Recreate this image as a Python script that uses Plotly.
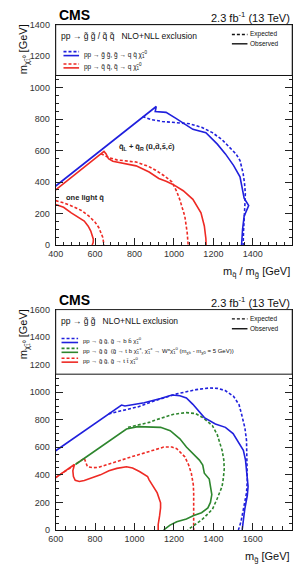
import plotly.graph_objects as go

W, H = 301, 572

# ---------------- data: top panel (gluino / squark -> q) ----------------
top_blue_obs_x = [400, 895, 910, 905, 960, 1010, 1055, 1096, 1162, 1220, 1261, 1302, 1335, 1351, 1356, 1379, 1356, 1348, 1343]
top_blue_obs_y = [375, 870, 880, 848, 843, 805, 766, 735, 714, 641, 579, 506, 433, 339, 298, 250, 183, 100, 0]
top_blue_exp_x = [841, 880, 940, 1000, 1080, 1140, 1195, 1245, 1285, 1315, 1335, 1351, 1358, 1362, 1360, 1356, 1353, 1351]
top_blue_exp_y = [816, 798, 785, 777, 770, 748, 714, 668, 620, 578, 537, 454, 390, 329, 260, 183, 90, 0]

top_red_obs_x = [400, 645, 655, 668, 690, 726, 808, 874, 923, 960, 995, 1047, 1096, 1137, 1154, 1162, 1163]
top_red_obs_y = [350, 595, 580, 548, 532, 522, 503, 464, 423, 405, 385, 345, 290, 204, 121, 40, 0]
top_red_exp_x = [630, 670, 710, 808, 870, 907, 950, 989, 1014, 1030, 1055, 1067, 1072]
top_red_exp_y = [580, 555, 541, 527, 500, 475, 440, 402, 340, 287, 183, 79, 0]

top_red1_obs_x = [400, 440, 479, 520, 545, 565, 578, 591, 590, 585]
top_red1_obs_y = [258, 240, 204, 175, 152, 120, 89, 37, 15, 0]
top_red1_exp_x = [400, 440, 487, 530, 569, 600, 619, 639, 645]
top_red1_exp_y = [282, 268, 245, 220, 183, 145, 110, 48, 0]

# ---------------- data: bottom panel (gluino -> b/t) ----------------
bot_blue_obs_x = [600, 934, 951, 1049, 1132, 1190, 1230, 1263, 1296, 1354, 1410, 1461, 1500, 1527, 1552, 1563, 1570, 1576, 1572, 1565, 1559, 1552, 1546]
bot_blue_obs_y = [575, 907, 900, 924, 955, 980, 975, 959, 912, 816, 770, 745, 700, 638, 579, 507, 420, 316, 250, 200, 150, 70, 0]
bot_blue_exp_x = [868, 951, 1020, 1099, 1160, 1214, 1313, 1379, 1420, 1460, 1502, 1530, 1543, 1560, 1568, 1573, 1572, 1568, 1551, 1540, 1527]
bot_blue_exp_y = [843, 869, 895, 936, 962, 988, 1019, 1031, 1028, 1012, 971, 910, 840, 740, 650, 459, 360, 269, 126, 60, 0]

bot_green_obs_x = [700, 959, 1016, 1132, 1181, 1230, 1263, 1280, 1329, 1346, 1354, 1379, 1387, 1392, 1385, 1372, 1340, 1300, 1263, 1214, 1180, 1148]
bot_green_obs_y = [475, 733, 750, 745, 721, 662, 602, 579, 507, 471, 412, 370, 300, 257, 200, 160, 125, 105, 80, 60, 35, 0]
bot_green_exp_x = [967, 1074, 1099, 1198, 1263, 1310, 1346, 1395, 1420, 1444, 1453, 1455, 1450, 1444, 1420, 1395, 1346, 1296, 1270]
bot_green_exp_y = [745, 781, 795, 840, 852, 845, 816, 757, 690, 579, 507, 440, 370, 316, 230, 150, 80, 25, 0]

bot_red_obs_x = [600, 695, 687, 690, 699, 720, 745, 790, 827, 870, 910, 959, 990, 1025, 1066, 1074, 1107, 1115, 1132, 1132, 1127, 1120, 1120]
bot_red_obs_y = [380, 475, 430, 388, 360, 352, 359, 380, 400, 430, 447, 459, 450, 424, 388, 364, 293, 269, 197, 160, 102, 40, 0]
bot_red_exp_x = [600, 745, 761, 790, 819, 860, 901, 984, 1066, 1148, 1190, 1214, 1255, 1275, 1288, 1298, 1300, 1300]
bot_red_exp_y = [380, 520, 459, 452, 455, 475, 495, 531, 566, 602, 602, 590, 531, 470, 412, 330, 269, 0]

top_xticks = [400, 600, 800, 1000, 1200, 1400, 1600]
top_yticks = [0, 200, 400, 600, 800, 1000, 1200, 1400]
bot_xticks = [600, 800, 1000, 1200, 1400, 1600, 1800]
bot_yticks = [0, 200, 400, 600, 800, 1000, 1200, 1400, 1600]

BLUE = "#2020dd"
RED = "#ee2a24"
GREEN = "#2e862e"
DASH = "3px,2px"
FONT = "Liberation Sans, Arial, sans-serif"
LW = 1.6

fig = go.Figure()

def add(x, y, color, dashed, xa, ya):
    fig.add_trace(go.Scatter(x=x, y=y, mode="lines", xaxis=xa, yaxis=ya, showlegend=False,
                             hoverinfo="skip",
                             line=dict(color=color, width=LW, dash=DASH if dashed else "solid")))

# top
add(top_red1_exp_x, top_red1_exp_y, RED, True, "x", "y")
add(top_red1_obs_x, top_red1_obs_y, RED, False, "x", "y")
add(top_red_exp_x, top_red_exp_y, RED, True, "x", "y")
add(top_red_obs_x, top_red_obs_y, RED, False, "x", "y")
add(top_blue_exp_x, top_blue_exp_y, BLUE, True, "x", "y")
add(top_blue_obs_x, top_blue_obs_y, BLUE, False, "x", "y")
# bottom
add(bot_red_exp_x, bot_red_exp_y, RED, True, "x2", "y2")
add(bot_red_obs_x, bot_red_obs_y, RED, False, "x2", "y2")
add(bot_green_exp_x, bot_green_exp_y, GREEN, True, "x2", "y2")
add(bot_green_obs_x, bot_green_obs_y, GREEN, False, "x2", "y2")
add(bot_blue_exp_x, bot_blue_exp_y, BLUE, True, "x2", "y2")
add(bot_blue_obs_x, bot_blue_obs_y, BLUE, False, "x2", "y2")

xdom = [49 / W, 292 / W]
top_dom = [1 - 244.3 / H, 1 - 20 / H]
bot_dom = [1 - 534.3 / H, 1 - 310 / H]

def axis(rng, ticks, dom, anchor, minor_dtick, **kw):
    return dict(domain=dom, range=rng, anchor=anchor, tickvals=ticks,
                ticktext=[str(t) for t in ticks],
                ticks="inside", ticklen=7, tickwidth=1, tickcolor="#222",
                showline=True, linecolor="#111", linewidth=1, mirror="allticks",
                showgrid=False, zeroline=False,
                tickfont=dict(family=FONT, size=9, color="#333"),
                minor=dict(dtick=minor_dtick, tick0=0, ticks="inside", ticklen=3.5,
                           tickcolor="#222", tickwidth=1, showgrid=False),
                **kw)

fig.update_layout(
    width=W, height=H, margin=dict(l=0, r=0, t=0, b=0),
    paper_bgcolor="white", plot_bgcolor="white",
    xaxis=axis([400, 1600], top_xticks, xdom, "y", 40),
    yaxis=axis([0, 1400], top_yticks, top_dom, "x", 50, ticklabelstandoff=3),
    xaxis2=axis([600, 1800], bot_xticks, xdom, "y2", 50),
    yaxis2=axis([0, 1600], bot_yticks, bot_dom, "x2", 50, ticklabelstandoff=3),
)

shapes = []
annos = []

def px2p(px, py):
    return px / W, 1 - py / H

def line_paper(x0, x1, py, color, dashed, width=LW):
    a0, b0 = px2p(x0, py)
    a1, _ = px2p(x1, py)
    shapes.append(dict(type="line", xref="paper", yref="paper", x0=a0, x1=a1, y0=b0, y1=b0,
                       line=dict(color=color, width=width, dash=DASH if dashed else "solid")))

def text_paper(px, py, txt, size, xanchor="left", color="#111", bold=False, family=FONT, angle=0, yanchor="middle"):
    a, b = px2p(px, py)
    t = "<b>" + txt + "</b>" if bold else txt
    annos.append(dict(x=a, y=b, xref="paper", yref="paper", text=t, showarrow=False,
                      xanchor=xanchor, yanchor=yanchor, textangle=angle,
                      font=dict(family=family, size=size, color=color)))

# legend boxes
shapes.append(dict(type="rect", xref="x", yref="y", x0=400, x1=1600, y0=1077, y1=1400,
                   fillcolor="white", line=dict(color="#111", width=1), layer="above"))
shapes.append(dict(type="rect", xref="x2", yref="y2", x0=600, x1=1800, y0=1131, y1=1600,
                   fillcolor="white", line=dict(color="#111", width=1), layer="above"))

# headers
for off in (0, 290):
    text_paper(50, 10 + off, "CMS", 14, bold=True, color="#000")
    text_paper(292, 12 + off, "2.3 fb<sup>-1</sup> (13 TeV)", 11, xanchor="right", color="#111")

# top legend
text_paper(52, 31.5, "pp → g̃ g̃ / q̃ q̃   NLO+NLL exclusion", 8.5)
line_paper(230, 246, 30, "#111", True, 1.4)
text_paper(247, 30, "Expected", 6.5)
line_paper(230, 246, 39.5, "#111", False, 1.4)
text_paper(247, 39.5, "Observed", 6.5)
line_paper(57, 73, 47.5, BLUE, True)
line_paper(57, 73, 51.5, BLUE, False)
text_paper(76, 50, "pp → g̃ g̃, g̃ → q q̄ χ̃<sub>1</sub><sup>0</sup>", 6.5)
line_paper(57, 73, 60, RED, True)
line_paper(57, 73, 64, RED, False)
text_paper(76, 62.5, "pp → q̃ q̃, q̃ → q χ̃<sub>1</sub><sup>0</sup>", 6.5)

# bottom legend
text_paper(52, 321.5, "pp → g̃ g̃   NLO+NLL exclusion", 8.5)
line_paper(230, 246, 319.5, "#111", True, 1.4)
text_paper(247, 319.5, "Expected", 6.5)
line_paper(230, 246, 329.5, "#111", False, 1.4)
text_paper(247, 329.5, "Observed", 6.5)
for py, col, txt in [
    (341.5, BLUE, "pp → g̃ g̃, g̃ → b b̄ χ̃<sub>1</sub><sup>0</sup>"),
    (351.5, GREEN, "pp → g̃ g̃  (g̃ → t b χ̃<sub>1</sub><sup>±</sup>, χ̃<sub>1</sub><sup>±</sup> → W*χ̃<sub>1</sub><sup>0</sup> (m<sub>χ̃±</sub> - m<sub>χ̃0</sub> = 5 GeV))"),
    (361.5, RED, "pp → g̃ g̃, g̃ → t t̄ χ̃<sub>1</sub><sup>0</sup>"),
]:
    line_paper(55, 72, py - 2, col, True)
    line_paper(55, 72, py + 2, col, False)
    text_paper(75, py, txt, 6)

# in-plot labels (top panel)
annos.append(dict(x=711, y=620, xref="x", yref="y", text="<b>q̃<sub>L</sub> + q̃<sub>R</sub> (ũ,d̃,s̃,c̃)</b>",
                  showarrow=False, xanchor="left", yanchor="middle",
                  font=dict(family=FONT, size=7.5, color="#222")))
annos.append(dict(x=440, y=302, xref="x", yref="y", text="<b>one light q̃</b>",
                  showarrow=False, xanchor="left", yanchor="middle",
                  font=dict(family=FONT, size=7.5, color="#222")))

# axis titles
text_paper(292, 272, "m<sub>q̃</sub> / m<sub>g̃</sub> [GeV]", 11, xanchor="right")
text_paper(292, 562, "m<sub>g̃</sub> [GeV]", 11, xanchor="right")
text_paper(16, 18, "m<sub>χ̃₁⁰</sub> [GeV]", 11, xanchor="center", yanchor="top", angle=-90)
text_paper(16, 308, "m<sub>χ̃₁⁰</sub> [GeV]", 11, xanchor="center", yanchor="top", angle=-90)

fig.update_layout(shapes=shapes, annotations=annos)
fig.write_html("out.html")
